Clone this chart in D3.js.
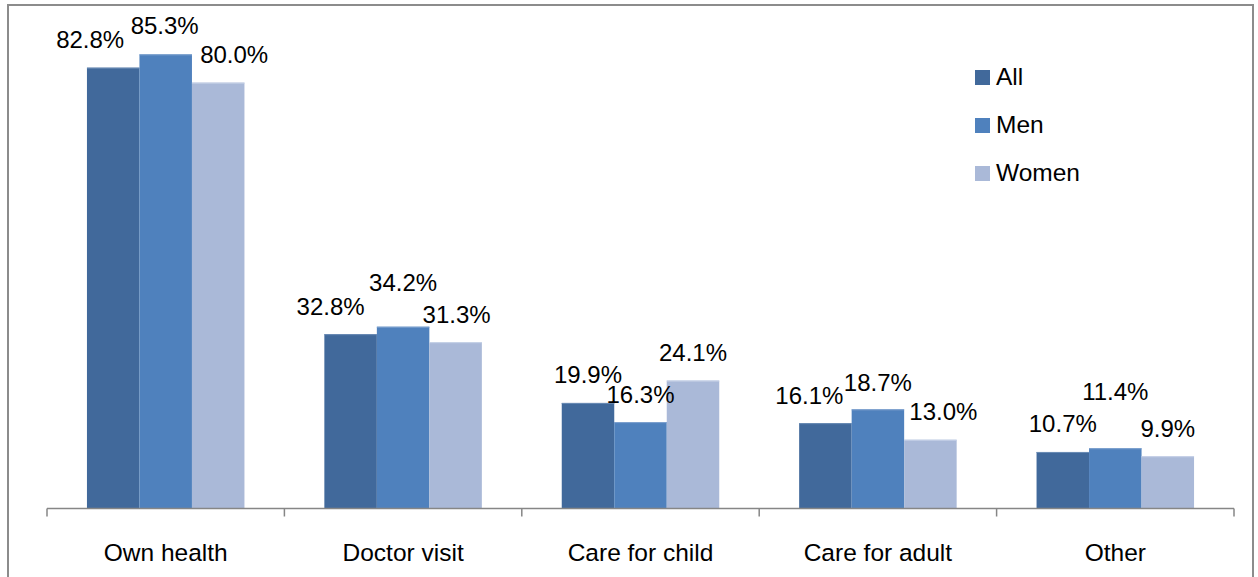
<!DOCTYPE html>
<html>
<head>
<meta charset="utf-8">
<script src="https://cdn.jsdelivr.net/npm/d3@7/dist/d3.min.js"></script>
<style>
  html, body { margin: 0; padding: 0; background: #fff; }
  svg { display: block; }
  text { font-family: "Liberation Sans", Arial, sans-serif; fill: #000; }
</style>
</head>
<body>
<svg id="chart" width="1258" height="577"></svg>
<script>
// ---- data ----
const categories = ["Own health", "Doctor visit", "Care for child", "Care for adult", "Other"];
const seriesNames = ["All", "Men", "Women"];
const allValues   = [82.8, 32.8, 19.9, 16.1, 10.7];
const menValues   = [85.3, 34.2, 16.3, 18.7, 11.4];
const womenValues = [80.0, 31.3, 24.1, 13.0, 9.9];
const seriesValues = [allValues, menValues, womenValues];

// ---- styling / layout (not data) ----
const colors = ["#41699B", "#4F81BD", "#AAB9D8"];
const edgeColors = ["#6A8CB5", "#7FA2CF", "#C8D3E8"];
// manual label nudges [dx, dy] per category, per series (as placed in the original)
const labelNudges = [
  [[-23, 0], [-1, -1], [16, 0]],
  [[-20, 0], [0, -16], [1, 0]],
  [[0, 0], [0, 0], [0, 0]],
  [[-16, 0], [0, 1], [13, 0]],
  [[0, 0], [0, -29], [0, 0]]
];

const svg = d3.select("#chart");
const plotLeft = 47, plotRight = 1234, baseY = 509;

// outer chart border
svg.append("rect")
  .attr("x", 8).attr("y", 5)
  .attr("width", 1245).attr("height", 600)
  .attr("fill", "none").attr("stroke", "#8C8C8C").attr("stroke-width", 2);

const x = d3.scaleBand().domain(categories).range([plotLeft, plotRight]).paddingInner(0).paddingOuter(0);
const xs = d3.scaleBand().domain(seriesNames).range([0, x.bandwidth()]).paddingInner(0).paddingOuter(0.761);
const y = d3.scaleLinear().domain([0, 90]).range([baseY, baseY - 90 * 5.33]);

// bars
const rows = [];
categories.forEach((c, ci) => {
  seriesNames.forEach((s, si) => {
    rows.push({ c, ci, s, si, v: seriesValues[si][ci] });
  });
});

const g = svg.append("g");
g.selectAll("rect.bar").data(rows).enter().append("rect")
  .attr("class", "bar")
  .attr("x", d => x(d.c) + xs(d.s))
  .attr("y", d => y(d.v))
  .attr("width", xs.bandwidth())
  .attr("height", d => y(0) - y(d.v))
  .attr("fill", d => colors[d.si]);

// light top edge
g.selectAll("line.edge").data(rows).enter().append("line")
  .attr("class", "edge")
  .attr("x1", d => x(d.c) + xs(d.s))
  .attr("x2", d => x(d.c) + xs(d.s) + xs.bandwidth())
  .attr("y1", d => y(d.v) + 0.5)
  .attr("y2", d => y(d.v) + 0.5)
  .attr("stroke", d => edgeColors[d.si]).attr("stroke-width", 1);

// data labels
g.selectAll("text.lbl").data(rows).enter().append("text")
  .attr("class", "lbl")
  .attr("x", d => x(d.c) + xs(d.s) + xs.bandwidth() / 2 + labelNudges[d.ci][d.si][0])
  .attr("y", d => y(d.v) - 19.5 + labelNudges[d.ci][d.si][1])
  .attr("text-anchor", "middle")
  .style("font-size", "24px")
  .text(d => d.v.toFixed(1) + "%");

// x axis
const axis = d3.axisBottom(x).tickSize(0).tickPadding(0);
const ax = svg.append("g").attr("transform", `translate(0,${baseY - 0.5})`).call(axis);
ax.select(".domain").remove();
ax.selectAll(".tick text")
  .attr("y", 52)
  .attr("dy", 0)
  .style("font-size", "24.5px")
  .style("font-family", "'Liberation Sans', Arial, sans-serif")
  .attr("fill", "#000");

ax.append("line")
  .attr("x1", plotLeft).attr("x2", plotRight)
  .attr("y1", 0).attr("y2", 0)
  .attr("stroke", "#868686").attr("stroke-width", 1.5);

const boundaries = categories.map(c => x(c)).concat([x(categories[categories.length - 1]) + x.bandwidth()]);
ax.selectAll("line.btick").data(boundaries).enter().append("line")
  .attr("class", "btick")
  .attr("x1", d => d).attr("x2", d => d)
  .attr("y1", 0).attr("y2", 8)
  .attr("stroke", "#868686").attr("stroke-width", 1.5);

// legend
const legend = svg.append("g").attr("transform", "translate(975,70)");
const li = legend.selectAll("g").data(seriesNames).enter().append("g")
  .attr("transform", (d, i) => `translate(0,${i * 48})`);
li.append("rect").attr("width", 15).attr("height", 15).attr("fill", (d, i) => colors[i]);
li.append("text").attr("x", 21).attr("y", 15)
  .style("font-size", "24.5px")
  .text(d => d);
</script>
</body>
</html>
